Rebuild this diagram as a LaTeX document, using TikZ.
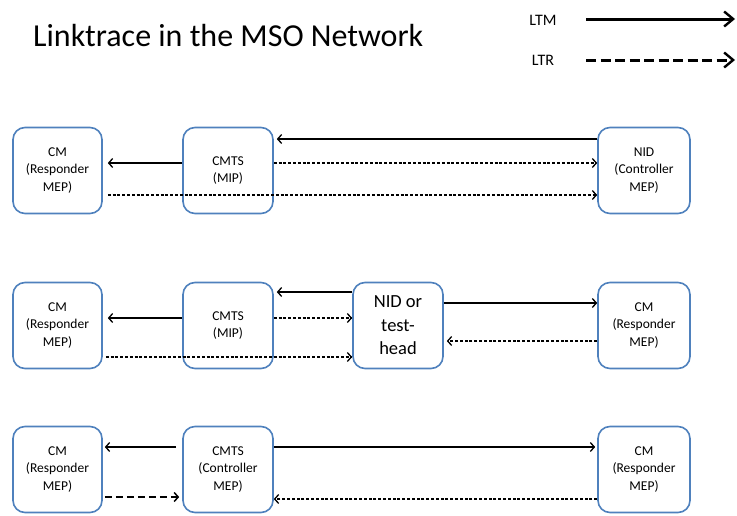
\documentclass[tikz,border=0pt]{standalone}
\usepackage{fontspec}
\setmainfont{Carlito}
\usetikzlibrary{arrows.meta}
\definecolor{boxblue}{RGB}{79,129,189}
\begin{document}
\begin{tikzpicture}[x=1pt,y=-1pt,
  box/.style={draw=boxblue,line width=1.6pt,rounded corners=12pt,fill=white,
    minimum height=86pt,align=center,inner sep=1pt,font=\fontsize{13.5}{17.5}\selectfont},
  cmw/.style={minimum width=89pt},
  midw/.style={minimum width=90pt},
  rw/.style={minimum width=92pt},
  ltm/.style={draw=black,line width=1.3pt,-{Straight Barb[length=4pt,width=9pt]}},
  ltr/.style={ltm,dash pattern=on 3pt off 1.8pt},
  ltrlong/.style={ltm,line width=1.5pt,dash pattern=on 7pt off 4pt},
  lgm/.style={draw=black,line width=3pt,-{Straight Barb[length=9pt,width=15pt,line width=2.4pt]}},
  lgr/.style={lgm,dash pattern=on 10pt off 4.5pt},
  lglabel/.style={font=\fontsize{16}{19}\selectfont},
]
\useasboundingbox (0,0) rectangle (737,515);

% title and legend
\node[anchor=base west,inner sep=0pt,font=\fontsize{32}{38}\selectfont] (title) at (33,46.7) {Linktrace in the MSO Network};
\node[lglabel] (ltmlab) at (543,20) {LTM};
\node[lglabel] (ltrlab) at (543,60) {LTR};
\coordinate (ltmA) at (586,19);
\coordinate (ltmB) at (735,19);
\coordinate (ltrA) at (586,60);
\coordinate (ltrB) at (735,60);
\draw[lgm] (ltmA) -- (ltmB);
\draw[lgr] (ltrA) -- (ltrB);

% row 1
\node[box,cmw] (cm1) at (57.5,170.5) {CM\\(Responder\\MEP)};
\node[box,midw] (cmts1) at (228,170.5) {CMTS\\(MIP)};
\node[box,rw] (nid1) at (644,170.5) {NID\\(Controller\\MEP)};
\draw[ltm,shorten >=3pt] ([yshift=31.5pt]nid1.west) -- ([yshift=31.5pt]cmts1.east);
\draw[ltr] ([yshift=7.5pt]cmts1.east) -- ([yshift=7.5pt]nid1.west);
\draw[ltm,shorten >=5pt] ([yshift=7.5pt]cmts1.west) -- ([yshift=7.5pt]cm1.east);
\draw[ltr,shorten <=5pt] ([yshift=-24.5pt]cm1.east) -- ([yshift=-24.5pt]nid1.west);

% row 2
\node[box,cmw] (cm2) at (57.5,325.5) {CM\\(Responder\\MEP)};
\node[box,midw] (cmts2) at (228,325.5) {CMTS\\(MIP)};
\node[box,midw,font=\fontsize{18.5}{23.5}\selectfont] (nidt) at (398,325.5) {NID or\\test-\\head};
\node[box,rw] (cmr2) at (644,325.5) {CM\\(Responder\\MEP)};
\draw[ltm,shorten >=3pt] ([yshift=33.5pt]nidt.west) -- ([yshift=33.5pt]cmts2.east);
\draw[ltm,shorten >=5pt] ([yshift=7.5pt]cmts2.west) -- ([yshift=7.5pt]cm2.east);
\draw[ltr] ([yshift=7.5pt]cmts2.east) -- ([yshift=7.5pt]nidt.west);
\draw[ltr,shorten <=3pt] ([yshift=-31.5pt]cm2.east) -- ([yshift=-31.5pt]nidt.west);
\draw[ltm] ([yshift=22.5pt]nidt.east) -- ([yshift=22.5pt]cmr2.west);
\draw[ltr,shorten >=3pt] ([yshift=-15.5pt]cmr2.west) -- ([yshift=-15.5pt]nidt.east);

% row 3
\node[box,cmw] (cm3) at (57.5,469.5) {CM\\(Responder\\MEP)};
\node[box,midw] (cmts3) at (228,469.5) {CMTS\\(Controller\\MEP)};
\node[box,rw] (cmr3) at (644,469.5) {CM\\(Responder\\MEP)};
\draw[ltm,shorten <=6pt,shorten >=2pt] ([yshift=22.5pt]cmts3.west) -- ([yshift=22.5pt]cm3.east);
\draw[ltm,shorten >=2pt] ([yshift=22.5pt]cmts3.east) -- ([yshift=22.5pt]cmr3.west);
\draw[ltrlong,shorten <=2pt,shorten >=3pt] ([yshift=-27.5pt]cm3.east) -- ([yshift=-27.5pt]cmts3.west);
\draw[ltr] ([yshift=-29.5pt]cmr3.west) -- ([yshift=-29.5pt]cmts3.east);
\end{tikzpicture}
\end{document}
